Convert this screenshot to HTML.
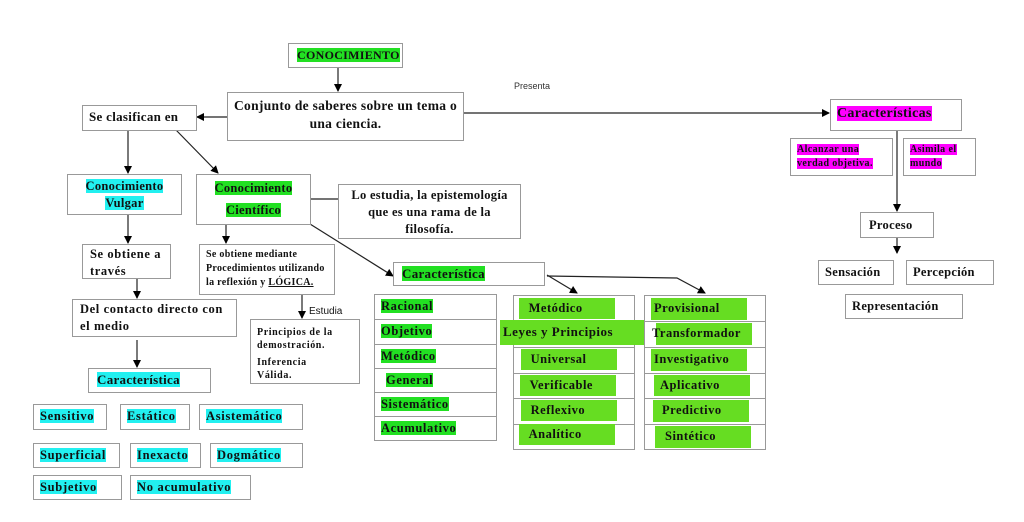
<!DOCTYPE html>
<html><head><meta charset="utf-8"><style>
body{margin:0;width:1024px;height:522px;background:#fff;position:relative;overflow:hidden;font-family:"Liberation Serif","DejaVu Serif",serif;font-weight:bold;color:#111}
.b{position:absolute;border:1.5px solid #999;box-sizing:border-box;background:#fff;font-size:12.5px;line-height:16px;padding:3px 6px;letter-spacing:.3px}
.g{background:#22e022}
.c{background:#22f0f0}
.m{background:#ff00ff}
.cell{position:absolute;font-size:12.5px;letter-spacing:.6px;line-height:20px}
.gc{position:absolute;background:#66dd22;font-size:12.5px;line-height:20px;letter-spacing:.5px;padding-left:6px;box-sizing:border-box}
.v{font-size:12.5px;letter-spacing:.7px}
svg{position:absolute;left:0;top:0}
</style></head><body>
<svg width="1024" height="522">
<defs><marker id="a" markerWidth="8" markerHeight="8" refX="7" refY="4" orient="auto" markerUnits="userSpaceOnUse"><path d="M0,0L8,4L0,8z" fill="#000"/></marker></defs>
<g stroke="#222" stroke-width="1.2" fill="none" marker-end="url(#a)">
<line x1="338" y1="67" x2="338" y2="91"/>
<line x1="227" y1="117" x2="197" y2="117"/>
<line x1="463" y1="113" x2="829" y2="113"/>
<line x1="128" y1="130" x2="128" y2="173"/>
<line x1="176" y1="130" x2="218" y2="173"/>
<line x1="310" y1="199" x2="345" y2="199"/>
<line x1="310" y1="224" x2="393" y2="276"/>
<line x1="128" y1="214" x2="128" y2="243"/>
<line x1="226" y1="225" x2="226" y2="243"/>
<line x1="302" y1="294" x2="302" y2="318"/>
<line x1="137" y1="278" x2="137" y2="298"/>
<line x1="137" y1="340" x2="137" y2="367"/>
<line x1="547" y1="275" x2="577" y2="293"/>
<polyline points="547,276 677,278 705,293"/>
<line x1="897" y1="130" x2="897" y2="211"/>
<line x1="897" y1="237" x2="897" y2="253"/>
</g>
<text x="514" y="89" font-family="Liberation Sans,sans-serif" font-size="9" font-weight="normal" fill="#333">Presenta</text>
<text x="309" y="314" font-family="Liberation Sans,sans-serif" font-size="10" font-weight="normal" fill="#111">Estudia</text>
</svg>

<div class="b" style="left:288px;top:43px;width:115px;height:25px;padding:3px 8px;font-size:12px"><span class="g">CONOCIMIENTO</span></div>
<div class="b" style="left:227px;top:92px;width:237px;height:49px;text-align:center;font-size:13.5px;line-height:18px;padding-top:4px">Conjunto de saberes sobre un tema o una ciencia.</div>
<div class="b" style="left:82px;top:105px;width:115px;height:26px;font-size:13px">Se clasifican en</div>
<div class="b" style="left:830px;top:99px;width:132px;height:32px;font-size:14px;padding-top:6px"><span class="m">Características</span></div>
<div class="b" style="left:790px;top:138px;width:103px;height:38px;font-size:10px;line-height:14px;padding:4px 6px;letter-spacing:.4px"><span class="m">Alcanzar una verdad objetiva.</span></div>
<div class="b" style="left:903px;top:138px;width:73px;height:38px;font-size:10px;line-height:14px;padding:4px 6px;letter-spacing:.4px"><span class="m">Asimila el mundo</span></div>
<div class="b" style="left:860px;top:212px;width:74px;height:26px;font-size:12.5px;padding:4px 8px">Proceso</div>
<div class="b" style="left:818px;top:260px;width:76px;height:25px;font-size:12.5px">Sensación</div>
<div class="b" style="left:906px;top:260px;width:88px;height:25px;font-size:12.5px">Percepción</div>
<div class="b" style="left:845px;top:294px;width:118px;height:25px;font-size:12.5px">Representación</div>

<div class="b" style="left:67px;top:174px;width:115px;height:41px;text-align:center;line-height:17px;padding-top:3px"><span class="c">Conocimiento</span><br><span class="c">Vulgar</span></div>
<div class="b" style="left:196px;top:174px;width:115px;height:51px;text-align:center;line-height:22px;padding-top:2px"><span class="g">Conocimiento</span><br><span class="g">Científico</span></div>
<div class="b" style="left:338px;top:184px;width:183px;height:55px;text-align:center;line-height:17px;padding-top:2px">Lo estudia, la epistemología que es una rama de la filosofía.</div>
<div class="b" style="left:393px;top:262px;width:152px;height:24px;padding:3px 8px;font-size:13px"><span class="g">Característica</span></div>
<div class="b" style="left:82px;top:244px;width:89px;height:35px;line-height:17px;padding:1px 7px;letter-spacing:.6px">Se obtiene a través</div>
<div class="b" style="left:199px;top:244px;width:136px;height:51px;font-size:10px;line-height:14px;padding:3px 6px">Se obtiene mediante Procedimientos utilizando la reflexión y <u>LÓGICA.</u></div>
<div class="b" style="left:250px;top:319px;width:110px;height:65px;font-size:10px;line-height:13px;padding:6px 6px;letter-spacing:.6px">Principios de la demostración.<div style="height:4px"></div>Inferencia<br>Válida.</div>
<div class="b" style="left:72px;top:299px;width:165px;height:38px;line-height:17px;padding:1px 7px;letter-spacing:.6px">Del contacto directo con el medio</div>
<div class="b" style="left:88px;top:368px;width:123px;height:25px;padding:3px 8px;font-size:13px"><span class="c">Característica</span></div>

<div class="b v" style="left:33px;top:404px;width:74px;height:26px"><span class="c">Sensitivo</span></div>
<div class="b v" style="left:120px;top:404px;width:70px;height:26px"><span class="c">Estático</span></div>
<div class="b v" style="left:199px;top:404px;width:104px;height:26px"><span class="c">Asistemático</span></div>
<div class="b v" style="left:33px;top:443px;width:87px;height:25px"><span class="c">Superficial</span></div>
<div class="b v" style="left:130px;top:443px;width:71px;height:25px"><span class="c">Inexacto</span></div>
<div class="b v" style="left:210px;top:443px;width:93px;height:25px"><span class="c">Dogmático</span></div>
<div class="b v" style="left:33px;top:475px;width:89px;height:25px"><span class="c">Subjetivo</span></div>
<div class="b v" style="left:130px;top:475px;width:121px;height:25px"><span class="c">No acumulativo</span></div>

<!-- column 1 -->
<div class="b" style="left:374px;top:294px;width:123px;height:147px;padding:0"></div>
<div style="position:absolute;left:374px;width:123px;top:319px;border-top:1.5px solid #999"></div>
<div style="position:absolute;left:374px;width:123px;top:344px;border-top:1.5px solid #999"></div>
<div style="position:absolute;left:374px;width:123px;top:368px;border-top:1.5px solid #999"></div>
<div style="position:absolute;left:374px;width:123px;top:392px;border-top:1.5px solid #999"></div>
<div style="position:absolute;left:374px;width:123px;top:416px;border-top:1.5px solid #999"></div>
<div class="cell" style="left:381px;top:296px"><span class="g">Racional</span></div>
<div class="cell" style="left:381px;top:321px"><span class="g">Objetivo</span></div>
<div class="cell" style="left:381px;top:346px"><span class="g">Metódico</span></div>
<div class="cell" style="left:386px;top:370px"><span class="g">General</span></div>
<div class="cell" style="left:381px;top:394px"><span class="g">Sistemático</span></div>
<div class="cell" style="left:381px;top:418px"><span class="g">Acumulativo</span></div>

<!-- column 2 -->
<div class="b" style="left:513px;top:295px;width:122px;height:155px;padding:0"></div>
<div style="position:absolute;left:513px;width:122px;top:321px;border-top:1.5px solid #999"></div>
<div style="position:absolute;left:513px;width:122px;top:347px;border-top:1.5px solid #999"></div>
<div style="position:absolute;left:513px;width:122px;top:373px;border-top:1.5px solid #999"></div>
<div style="position:absolute;left:513px;width:122px;top:398px;border-top:1.5px solid #999"></div>
<div style="position:absolute;left:513px;width:122px;top:424px;border-top:1.5px solid #999"></div>
<div class="gc" style="left:519px;top:298px;width:96px;height:21px">&nbsp;Metódico</div>
<div class="gc" style="left:500px;top:320px;width:145px;height:25px;padding-left:3px;line-height:24px;font-size:13px">Leyes y Principios</div>
<div class="gc" style="left:521px;top:349px;width:96px;height:21px">&nbsp;Universal</div>
<div class="gc" style="left:520px;top:375px;width:96px;height:21px">&nbsp;Verificable</div>
<div class="gc" style="left:521px;top:400px;width:96px;height:21px">&nbsp;Reflexivo</div>
<div class="gc" style="left:519px;top:424px;width:96px;height:21px">&nbsp;Analítico</div>

<!-- column 3 -->
<div class="b" style="left:644px;top:295px;width:122px;height:155px;padding:0"></div>
<div style="position:absolute;left:644px;width:122px;top:321px;border-top:1.5px solid #999"></div>
<div style="position:absolute;left:644px;width:122px;top:347px;border-top:1.5px solid #999"></div>
<div style="position:absolute;left:644px;width:122px;top:373px;border-top:1.5px solid #999"></div>
<div style="position:absolute;left:644px;width:122px;top:398px;border-top:1.5px solid #999"></div>
<div style="position:absolute;left:644px;width:122px;top:424px;border-top:1.5px solid #999"></div>
<div class="gc" style="left:651px;top:298px;width:96px;height:22px;padding-left:3px">Provisional</div>
<div class="gc" style="left:656px;top:323px;width:96px;height:22px;padding-left:0;overflow:visible;white-space:nowrap"><span style="margin-left:-4px">Transformador</span></div>
<div class="gc" style="left:651px;top:349px;width:96px;height:22px;padding-left:3px">Investigativo</div>
<div class="gc" style="left:654px;top:375px;width:96px;height:21px">Aplicativo</div>
<div class="gc" style="left:653px;top:400px;width:96px;height:22px;padding-left:9px">Predictivo</div>
<div class="gc" style="left:655px;top:426px;width:96px;height:22px;padding-left:10px">Sintético</div>
</body></html>
